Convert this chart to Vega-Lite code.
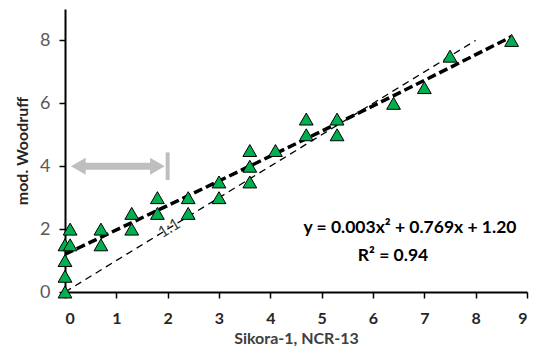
{
  "$schema": "https://vega.github.io/schema/vega-lite/v6.json",
  "width": 462,
  "height": 283,
  "autosize": "none",
  "padding": {"left": 65, "top": 9, "right": 20, "bottom": 70},
  "config": {
    "view": {"stroke": null},
    "font": "Lato",
    "axis": {"grid": false, "domainColor": "#000000", "domainWidth": 2, "tickColor": "#000000", "tickWidth": 1.5, "tickSize": 6}
  },
  "datasets": {
    "pts": [
      {"x": 0, "y": 0}, {"x": 0, "y": 0.5}, {"x": 0, "y": 1}, {"x": 0, "y": 1.5},
      {"x": 0.1, "y": 2}, {"x": 0.1, "y": 1.5}, {"x": 0.7, "y": 2}, {"x": 0.7, "y": 1.5},
      {"x": 1.3, "y": 2.5}, {"x": 1.3, "y": 2}, {"x": 1.8, "y": 3}, {"x": 1.8, "y": 2.5},
      {"x": 2.4, "y": 3}, {"x": 2.4, "y": 2.5}, {"x": 3, "y": 3.5}, {"x": 3, "y": 3},
      {"x": 3.6, "y": 4.5}, {"x": 3.6, "y": 4}, {"x": 3.6, "y": 3.5}, {"x": 4.1, "y": 4.5},
      {"x": 4.7, "y": 5.5}, {"x": 4.7, "y": 5}, {"x": 5.3, "y": 5.5}, {"x": 5.3, "y": 5},
      {"x": 6.4, "y": 6}, {"x": 7, "y": 6.5}, {"x": 7.5, "y": 7.5}, {"x": 8.7, "y": 8}
    ],
    "oneone": [{"x": 0, "y": 0}, {"x": 8, "y": 8}],
    "fit": [{"x": 0, "y": 1.2}, {"x": 2, "y": 2.75}, {"x": 4, "y": 4.32}, {"x": 6, "y": 5.92}, {"x": 8.7, "y": 8.12}],
    "arrow": [{"x": 0.26, "x2": 1.8, "y": 4}],
    "heads": [{"x": 0.26, "y": 4, "shape": "triangle-left"}, {"x": 1.8, "y": 4, "shape": "triangle-right"}],
    "bar": [{"x": 2.0, "y": 3.56, "y2": 4.44}],
    "lbl11": [{"x": 2.03, "y": 2.03, "t": "1:1"}],
    "eq": [{"x": 6.72, "y": 2.03, "t": "y = 0.003x² + 0.769x + 1.20"}, {"x": 6.39, "y": 1.14, "t": "R² = 0.94"}]
  },
  "layer": [
    {
      "data": {"name": "oneone"},
      "mark": {"type": "line", "color": "#000000", "strokeWidth": 1.3, "strokeDash": [7, 5]},
      "encoding": {
        "x": {"field": "x", "type": "quantitative", "scale": {"domain": [0, 9], "nice": false},
          "axis": {"values": [0,0.5,1,1.5,2,2.5,3,3.5,4,4.5,5,5.5,6,6.5,7,7.5,8,8.5,9],
            "labelExpr": "datum.value % 1 == 0 ? datum.label : ''",
            "title": "Sikora-1, NCR-13", "labelFontSize": 16, "labelFontWeight": "bold", "labelColor": "#262626",
            "labelPadding": 12, "titleFontSize": 16, "titleFontWeight": "bold", "titleColor": "#404040", "titlePadding": 4}},
        "y": {"field": "y", "type": "quantitative", "scale": {"domain": [0, 9], "nice": false},
          "axis": {"values": [0,1,2,3,4,5,6,7,8,9],
            "labelExpr": "datum.value % 2 == 0 ? datum.label : ''",
            "title": "mod. Woodruff", "labelFontSize": 18, "labelColor": "#595959", "labelPadding": 9,
            "titleFontSize": 16, "titleFontWeight": "bold", "titleColor": "#262626", "titlePadding": 9}}
      }
    },
    {
      "data": {"name": "fit"},
      "mark": {"type": "line", "color": "#000000", "strokeWidth": 3.5, "strokeDash": [9, 4], "interpolate": "monotone"},
      "encoding": {"x": {"field": "x", "type": "quantitative"}, "y": {"field": "y", "type": "quantitative"}}
    },
    {
      "data": {"name": "arrow"},
      "mark": {"type": "rule", "color": "#BFBFBF", "strokeWidth": 7},
      "encoding": {"x": {"field": "x", "type": "quantitative"}, "x2": {"field": "x2"}, "y": {"field": "y", "type": "quantitative"}}
    },
    {
      "data": {"name": "heads"},
      "mark": {"type": "point", "filled": true, "color": "#BFBFBF", "size": 289, "opacity": 1},
      "encoding": {"x": {"field": "x", "type": "quantitative"}, "y": {"field": "y", "type": "quantitative"},
        "shape": {"field": "shape", "type": "nominal", "scale": null}}
    },
    {
      "data": {"name": "bar"},
      "mark": {"type": "rule", "color": "#BFBFBF", "strokeWidth": 4},
      "encoding": {"x": {"field": "x", "type": "quantitative"}, "y": {"field": "y", "type": "quantitative"}, "y2": {"field": "y2"}}
    },
    {
      "data": {"name": "pts"},
      "mark": {"type": "point", "shape": "triangle-up", "filled": true, "fill": "#00B050", "stroke": "#000000", "strokeWidth": 1, "size": 190, "opacity": 1},
      "encoding": {"x": {"field": "x", "type": "quantitative"}, "y": {"field": "y", "type": "quantitative"}}
    },
    {
      "data": {"name": "lbl11"},
      "mark": {"type": "text", "angle": -31.5, "fontSize": 16, "color": "#404040", "align": "center", "baseline": "middle"},
      "encoding": {"x": {"field": "x", "type": "quantitative"}, "y": {"field": "y", "type": "quantitative"}, "text": {"field": "t"}}
    },
    {
      "data": {"name": "eq"},
      "mark": {"type": "text", "fontSize": 17.5, "fontWeight": "bold", "color": "#000000", "align": "center", "baseline": "middle"},
      "encoding": {"x": {"field": "x", "type": "quantitative"}, "y": {"field": "y", "type": "quantitative"}, "text": {"field": "t"}}
    }
  ]
}
